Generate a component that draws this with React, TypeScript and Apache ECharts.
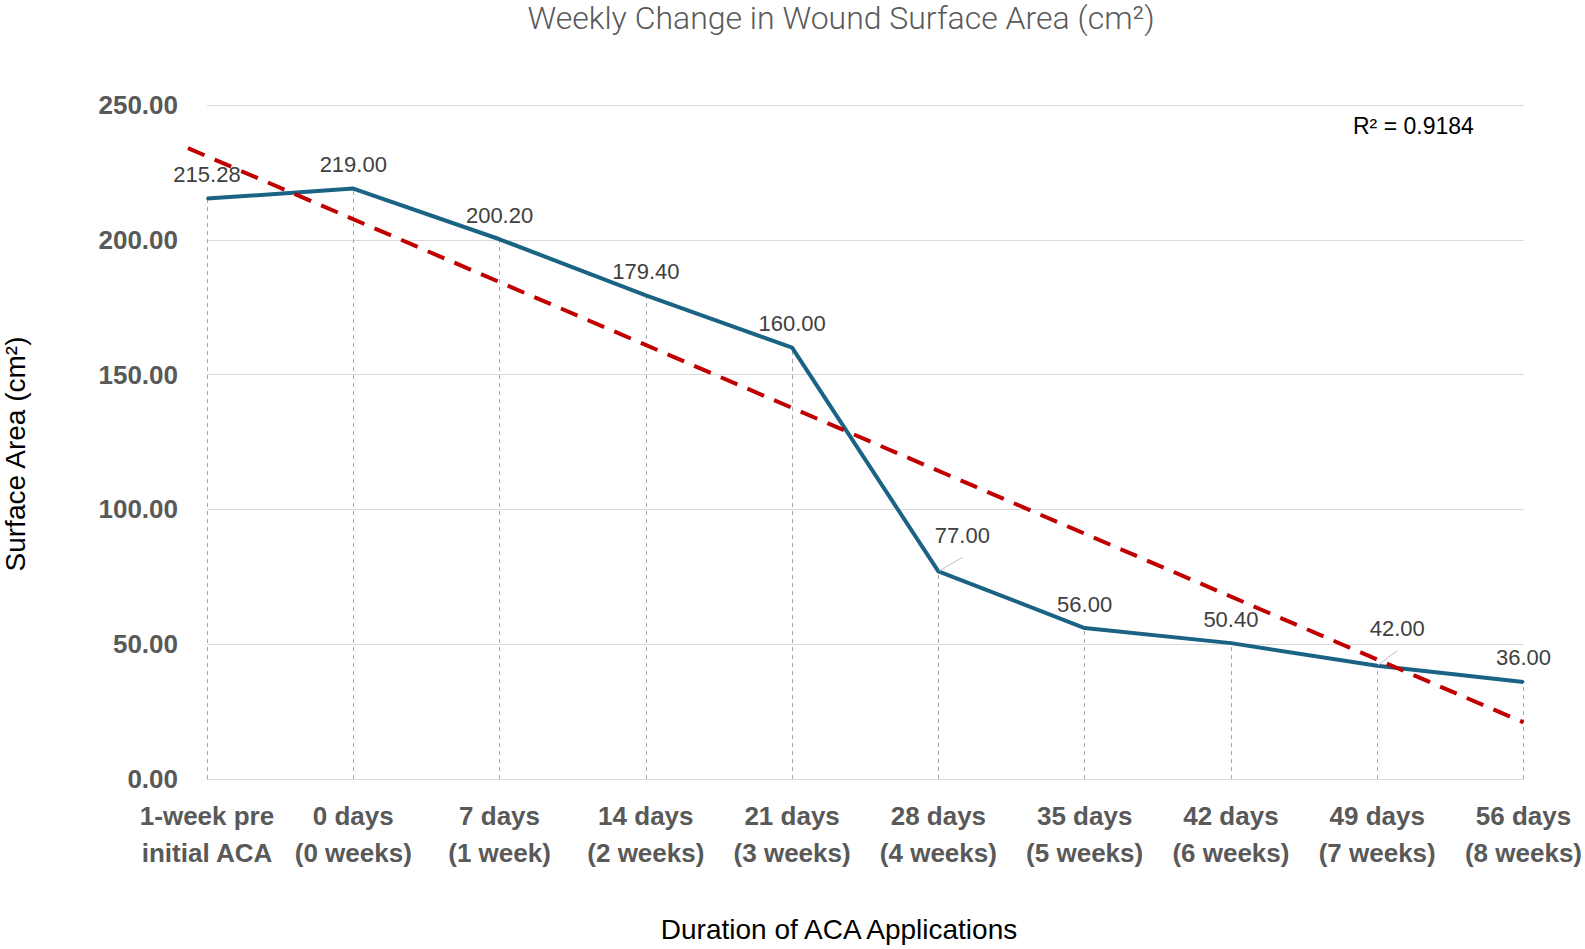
import React, { useEffect, useRef } from "react";
import * as echarts from "echarts";

const categories = [
  "1-week pre\ninitial ACA",
  "0 days\n(0 weeks)",
  "7 days\n(1 week)",
  "14 days\n(2 weeks)",
  "21 days\n(3 weeks)",
  "28 days\n(4 weeks)",
  "35 days\n(5 weeks)",
  "42 days\n(6 weeks)",
  "49 days\n(7 weeks)",
  "56 days\n(8 weeks)",
];
const surfaceArea = [215.28, 219.0, 200.2, 179.4, 160.0, 77.0, 56.0, 50.4, 42.0, 36.0];
const trendX = [-0.13, 9];
const trendY = [234, 21];
const yTicks = [0, 50, 100, 150, 200, 250];
const rSquaredText = "R² = 0.9184";

export default function App() {
  const ref = useRef<HTMLDivElement>(null);
  useEffect(() => {
    if (!ref.current) return;
    const chart = echarts.init(ref.current, null, { renderer: "svg" });
    const labelOffsets: Record<number, number[]> = { 5: [24, -12], 8: [20, -13] };
    const mainData = surfaceArea.map((v, i) => {
      const item: any = { value: [i, v] };
      if (labelOffsets[i]) {
        item.label = { offset: labelOffsets[i] };
        item.labelLine = { show: true, lineStyle: { color: "#bfbfbf", width: 1 } };
      }
      return item;
    });
    chart.setOption({
      animation: false,
      backgroundColor: "#ffffff",
      grid: { left: 207, right: 58, top: 105, bottom: 170, containLabel: false },
      xAxis: {
        type: "value",
        min: 0,
        max: categories.length - 1,
        interval: 1,
        splitLine: { show: false },
        axisTick: { show: false },
        axisLine: { show: true, lineStyle: { color: "#d9d9d9", width: 1 } },
        axisLabel: {
          formatter: (v: number) => categories[Math.round(v)] ?? "",
          fontFamily: "Liberation Sans",
          fontWeight: "bold",
          fontSize: 26,
          color: "#595959",
          lineHeight: 37,
          margin: 18,
          showMinLabel: true,
          showMaxLabel: true,
        },
      },
      yAxis: {
        type: "value",
        min: yTicks[0],
        max: yTicks[yTicks.length - 1],
        interval: 50,
        axisLine: { show: false },
        axisTick: { show: false },
        splitLine: { lineStyle: { color: "#d9d9d9", width: 1 } },
        axisLabel: {
          formatter: (v: number) => v.toFixed(2),
          fontFamily: "Liberation Sans",
          fontWeight: "bold",
          fontSize: 26,
          color: "#595959",
          margin: 29,
        },
      },
      series: [
        {
          type: "line",
          data: mainData,
          symbol: "circle",
          symbolSize: 2,
          showSymbol: true,
          itemStyle: { color: "#1b6384" },
          lineStyle: { color: "#1b6384", width: 4 },
          z: 3,
          label: {
            show: true,
            position: "top",
            distance: 12,
            formatter: (p: any) => p.value[1].toFixed(2),
            fontFamily: "Liberation Sans",
            fontSize: 22,
            color: "#404040",
          },
          markLine: {
            silent: true,
            symbol: "none",
            label: { show: false },
            lineStyle: { color: "#a6a6a6", type: [4, 4], width: 1 },
            z: 1,
            data: surfaceArea.map((v, i) => [
              { coord: [i, 0] },
              { coord: [i, v] },
            ]),
          },
        },
        {
          type: "custom",
          clip: false,
          z: 4,
          silent: true,
          encode: { x: [0, 2], y: [1, 3] },
          data: [[trendX[0], trendY[0], trendX[1], trendY[1]]],
          renderItem: (params: any, api: any) => {
            const p0 = api.coord([api.value(0), api.value(1)]);
            const p1 = api.coord([api.value(2), api.value(3)]);
            return {
              type: "line",
              shape: { x1: p0[0], y1: p0[1], x2: p1[0], y2: p1[1] },
              style: { stroke: "#c00000", lineWidth: 4, lineDash: [18, 11], fill: null },
            };
          },
        },
      ],
      graphic: [
        {
          type: "text",
          x: 841,
          y: 18,
          style: {
            text: "Weekly Change in Wound Surface Area (cm²)",
            fontFamily: "Roboto",
            fontWeight: 300,
            fontSize: 32,
            fill: "#595959",
            textAlign: "center",
            textVerticalAlign: "middle",
          },
        },
        {
          type: "text",
          x: 1353,
          y: 126,
          style: {
            text: rSquaredText,
            fontFamily: "Liberation Sans",
            fontSize: 23,
            fill: "#000000",
            textVerticalAlign: "middle",
          },
        },
        {
          type: "text",
          x: 15,
          y: 454,
          rotation: Math.PI / 2,
          style: {
            text: "Surface Area (cm²)",
            fontFamily: "Liberation Sans",
            fontSize: 28,
            fill: "#000000",
            textAlign: "center",
            textVerticalAlign: "middle",
          },
        },
        {
          type: "text",
          x: 839,
          y: 929,
          style: {
            text: "Duration of ACA Applications",
            fontFamily: "Liberation Sans",
            fontSize: 28,
            fill: "#000000",
            textAlign: "center",
            textVerticalAlign: "middle",
          },
        },
      ],
    });
    return () => chart.dispose();
  }, []);
  return (
    <div
      ref={ref}
      style={{ position: "absolute", left: 0, top: 0, width: 1585, height: 949 }}
    />
  );
}
